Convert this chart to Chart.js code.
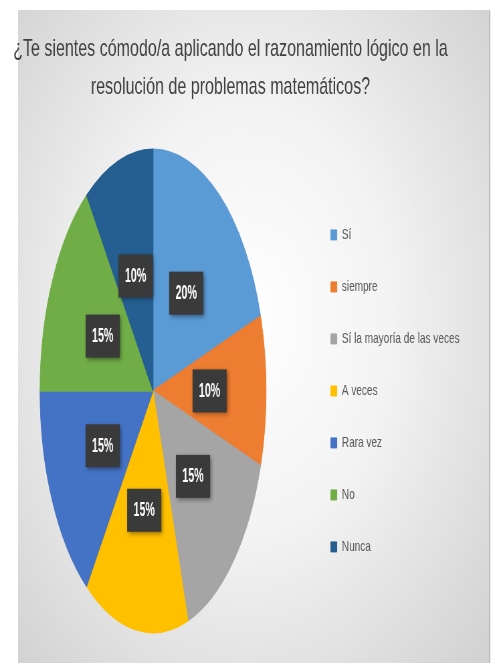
<!DOCTYPE html>
<html>
<head>
<meta charset="utf-8">
<script src="https://cdn.jsdelivr.net/npm/chart.js@4.4.1/dist/chart.umd.min.js"></script>
<style>
  html, body { margin: 0; padding: 0; background: #fff; }
  #chart { display: block; }
</style>
</head>
<body>
<!-- drawn on a wider canvas and squeezed to 495px, which gives the narrow lettering -->
<canvas id="chart" width="740" height="665" style="width:495px;height:665px"></canvas>
<script>
const titleLines = [
  "¿Te sientes cómodo/a aplicando el razonamiento lógico en la",
  "resolución de problemas matemáticos?"
];
const answers = ["Sí", "siempre", "Sí la mayoría de las veces", "A veces", "Rara vez", "No", "Nunca"];
const percents = [20, 10, 15, 15, 15, 15, 10];
const sliceColors = ["#5B9BD5", "#ED7D31", "#A5A5A5", "#FFC000", "#4472C4", "#70AD47", "#255E91"];

const PIE_STRETCH = 1.43; // pie is drawn as a tall ellipse

// Panel background with a soft radial shading
const panelBackground = {
  id: "panelBackground",
  beforeDraw(chart) {
    const ctx = chart.ctx;
    ctx.save();
    ctx.fillStyle = "#ffffff";
    ctx.fillRect(0, 0, chart.width, chart.height);
    const g = ctx.createRadialGradient(370, 320, 0, 370, 320, 480);
    g.addColorStop(0, "#ffffff");
    g.addColorStop(0.45, "#f3f3f3");
    g.addColorStop(1, "#d3d3d3");
    ctx.fillStyle = g;
    ctx.fillRect(27, 10, 706, 653);
    ctx.fillStyle = "#bdbdbd";
    ctx.fillRect(731, 10, 2, 653);
    ctx.restore();
  }
};

// Stretch the pie vertically around its own centre, then put the value boxes on it
const ellipsePie = {
  id: "ellipsePie",
  beforeDatasetsDraw(chart) {
    const arc = chart.getDatasetMeta(0).data[0];
    const ctx = chart.ctx;
    ctx.save();
    ctx.translate(arc.x, arc.y);
    ctx.scale(1, PIE_STRETCH);
    ctx.translate(-arc.x, -arc.y);
  },
  afterDatasetsDraw(chart) {
    const ctx = chart.ctx;
    ctx.restore();
    const meta = chart.getDatasetMeta(0);
    meta.data.forEach((arc, i) => {
      const p = arc.tooltipPosition();
      const x = p.x;
      const y = arc.y + (p.y - arc.y) * PIE_STRETCH;
      ctx.save();
      ctx.translate(x, y);
      ctx.shadowColor = "rgba(0,0,0,0.45)";
      ctx.shadowBlur = 5;
      ctx.shadowOffsetX = 2;
      ctx.shadowOffsetY = 2;
      ctx.fillStyle = "#3a3a3a";
      ctx.fillRect(-25.5, -21.5, 51, 43);
      ctx.shadowColor = "transparent";
      ctx.scale(1, 1.3);
      ctx.font = 'bold 16px "Liberation Sans", Arial, sans-serif';
      ctx.fillStyle = "#ffffff";
      ctx.textAlign = "center";
      ctx.textBaseline = "middle";
      ctx.fillText(percents[i] + "%", 0, 0);
      ctx.restore();
    });
  }
};

new Chart(document.getElementById("chart"), {
  type: "pie",
  data: {
    labels: answers,
    datasets: [{
      data: percents,
      backgroundColor: sliceColors,
      borderColor: sliceColors,
      borderWidth: 1,
      radius: 169
    }]
  },
  options: {
    responsive: false,
    devicePixelRatio: 1,
    animation: false,
    events: [],
    layout: {
      padding: { top: 10, bottom: 2, left: -8, right: 43 }
    },
    plugins: {
      title: {
        display: true,
        text: titleLines,
        color: "#3f3f3f",
        font: { family: '"Liberation Sans", Arial, sans-serif', size: 24, weight: "normal", lineHeight: 1.58 },
        padding: { top: 20, bottom: 13 }
      },
      legend: {
        display: true,
        position: "right",
        align: "center",
        fullSize: false,
        labels: {
          boxWidth: 9,
          boxHeight: 10,
          padding: 37,
          color: "#595959",
          font: { family: '"Liberation Sans", Arial, sans-serif', size: 15 }
        }
      },
      tooltip: { enabled: false }
    }
  },
  plugins: [panelBackground, ellipsePie]
});
</script>
</body>
</html>
